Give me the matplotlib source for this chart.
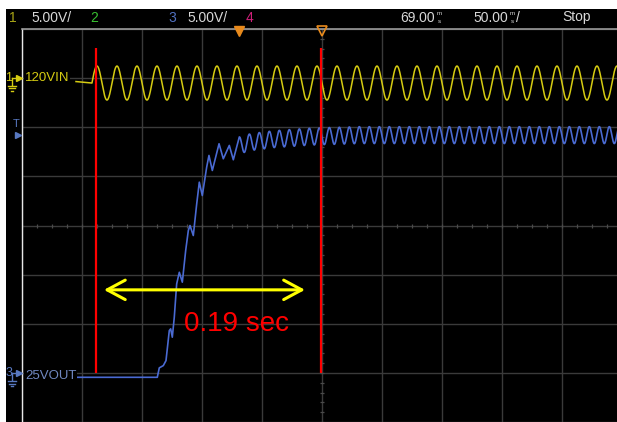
import numpy as np
import matplotlib.pyplot as plt
from matplotlib.lines import Line2D

# --- scope settings ---
T_DIV = 50.0      # ms / div
V_DIV = 5.0       # V / div
DELAY = 69.0      # ms at screen centre
CH1_OFS = 15.0    # ch1 ground position (V on screen)
CH3_OFS = -15.0   # ch3 ground position

# --- ch1 : 120 VIN line voltage ---
LINE_HZ = 60.0
VIN_T0 = -136.0       # first sample shown (ms)
VIN_START = -122.7    # AC switched on (ms, rising zero crossing)
VIN_IDLE = -0.35
VIN_MEAN = -0.5
VIN_AMPL = 1.73

# --- ch3 : 25 VOUT start-up, trace vertices (ms, V) ---
vout_t = [-136.0, -68.25, -66.6, -63.25, -61.0, -58.25, -57.1, -55.75, -54.1,
          -52.1, -49.9, -47.4, -44.6, -42.4, -41.0, -38.25, -35.4, -33.25,
          -30.75, -27.1, -25.2, -22.4, -16.8, -13.25, -8.25, -4.9]
vout_v = [-0.45, -0.45, 0.51, 0.74, 1.25, 4.31, 4.48, 3.63, 5.66,
          9.06, 10.24, 9.23, 12.45, 14.49, 15.0, 13.98, 17.21, 19.41,
          18.05, 20.94, 22.13, 20.60, 23.32, 21.79, 23.15, 21.69]
# settled output: ripple at twice the line frequency around a slowly rising level
RIPPLE_T0 = 0.1
RIPPLE_AMP = 0.86
level_t = [0.0, 10.0, 30.0, 60.0, 100.0, 320.0]
level_v = [23.15, 23.5, 23.8, 24.05, 24.2, 24.2]

# --- cursors and annotation ---
cursor_a = -119.3
cursor_b = 68.2
label_dt = "0.19 sec"

W, H = 617, 422
fig = plt.figure(figsize=(W / 100, H / 100), dpi=100, facecolor="white")


def fx(px):
    return px / W


def fy(py):
    return 1 - py / H


# black screen area
bg = fig.add_axes([fx(6), 0, 1 - fx(6), fy(9)])
bg.set_facecolor("black")
bg.set_xticks([])
bg.set_yticks([])
for s in bg.spines.values():
    s.set_visible(False)

# graticule
ax = fig.add_axes([fx(22), 0, 600 / W, 393 / H])
ax.set_facecolor("none")
t_lo, t_hi = DELAY - 5 * T_DIV, DELAY + 5 * T_DIV
ax.set_xlim(t_lo, t_hi)
ax.set_ylim(-4 * V_DIV, 4 * V_DIV)
ax.set_xticks(np.arange(t_lo, t_hi + 1, T_DIV))
ax.set_yticks(np.arange(-4 * V_DIV, 4 * V_DIV + 1, V_DIV))
ax.tick_params(length=0, labelbottom=False, labelleft=False)
ax.grid(True, color="#3a3a3a", lw=1.0, zorder=0)
ax.set_axisbelow(True)
for k in ["right", "bottom"]:
    ax.spines[k].set_visible(False)
ax.spines["left"].set_color("#e8e8e8")
ax.spines["left"].set_linewidth(1.0)
ax.spines["top"].set_color("#9a9a9a")
ax.spines["top"].set_linewidth(1.2)

# minor ticks on the centre lines
hx = np.arange(t_lo, t_hi + 0.1, T_DIV / 4)
ax.plot(hx, np.zeros_like(hx), ls="none", marker="|", ms=3.5, mew=0.9,
        color="#4a4a4a", zorder=1)
vy = np.arange(-4 * V_DIV, 4 * V_DIV + 0.1, V_DIV / 5)
ax.plot(np.full_like(vy, DELAY), vy, ls="none", marker="_", ms=3.5, mew=0.9,
        color="#4a4a4a", zorder=1)

# ch1 trace
t_ac = np.linspace(VIN_START, t_hi, 4000)
vin = VIN_MEAN + VIN_AMPL * np.sin(2 * np.pi * LINE_HZ / 1000 * (t_ac - VIN_START))
t1 = np.concatenate([[VIN_T0], t_ac])
v1 = np.concatenate([[VIN_IDLE], vin])
ax.plot(t1, v1 + CH1_OFS, color="#d6cc12", lw=1.1, zorder=3)

# ch3 trace
t_r = np.linspace(RIPPLE_T0, t_hi, 3000)
v_r = np.interp(t_r, level_t, level_v) + RIPPLE_AMP * np.cos(
    2 * np.pi * 2 * LINE_HZ / 1000 * (t_r - RIPPLE_T0))
t3 = np.concatenate([vout_t, t_r])
v3 = np.concatenate([vout_v, v_r])
ax.plot(t3, v3 + CH3_OFS, color="#4a6ad2", lw=1.2, zorder=3)

# cursors
ax.vlines([cursor_a, cursor_b], -15.0, 18.1, color="#ff0000", lw=1.6, zorder=4)

# delta-t arrow and label
ax.annotate("", xy=(cursor_a + 6.6, -6.55), xytext=(cursor_b - 13.4, -6.55),
            arrowprops=dict(arrowstyle="<->,head_length=1.3,head_width=0.7",
                            color="#ffff00", lw=2.2, shrinkA=0, shrinkB=0),
            zorder=5)
ax.text(-2.0, -10.0, label_dt, color="#ff0000", fontsize=20,
        family="Liberation Sans", ha="center", va="center", zorder=6)

# channel labels
ax.text(-178.5, CH1_OFS, "120VIN", color="#d6cc12", fontsize=9.5,
        family="Liberation Sans", ha="left", va="center", zorder=4,
        bbox=dict(facecolor="black", edgecolor="none", pad=0.5))
ax.text(-178.5, CH3_OFS - 0.35, "25VOUT", color="#7088c0", fontsize=9.5,
        family="Liberation Sans", ha="left", va="center", zorder=4,
        bbox=dict(facecolor="black", edgecolor="none", pad=0.5))

# trigger / delay markers on top edge
ax.plot([0.0], [19.75], marker="v", ms=7, color="#e88a1c", mec="#e88a1c",
        clip_on=False, zorder=6)
ax.plot([DELAY], [19.75], marker="v", ms=7, mfc="none", mec="#e88a1c",
        mew=1.2, clip_on=False, zorder=6)


# ground markers on the left margin
def ground_marker(py, col, num):
    fig.text(fx(8.5), fy(py), num, color=col, fontsize=9,
             family="Liberation Sans", ha="center", va="center")
    fig.add_artist(Line2D([fx(12), fx(12)], [fy(py), fy(py + 7)], color=col, lw=1))
    fig.add_artist(Line2D([fx(12), fx(16)], [fy(py), fy(py)], color=col, lw=1))
    fig.add_artist(Line2D([fx(18.5)], [fy(py)], marker=">", ms=5, color=col, ls="none"))
    for dy, hw in [(8, 4), (10.5, 2.6), (13, 1.2)]:
        fig.add_artist(Line2D([fx(12 - hw), fx(12 + hw)], [fy(py + dy)] * 2,
                              color=col, lw=1))


ground_marker(77.7, "#d6cc12", "1")
ground_marker(373.3, "#5878c0", "3")
fig.text(fx(16), fy(124), "T", color="#5878c0", fontsize=8,
         family="Liberation Sans", ha="center", va="center")
fig.add_artist(Line2D([fx(17.5)], [fy(135)], marker=">", ms=5,
                      color="#5878c0", ls="none"))

# header bar
hy = fy(17.5)
hdr = dict(fontsize=10, family="Liberation Sans", va="center", ha="left")
small = dict(fontsize=4.5, family="Liberation Sans", va="center", ha="center",
             color="#d8d8d8")
fig.text(fx(9), hy, "1", color="#a8a416", **hdr)
fig.text(fx(31), hy, "5.00V/", color="#d8d8d8", **hdr)
fig.text(fx(90), hy, "2", color="#38c030", **hdr)
fig.text(fx(168), hy, "3", color="#5070c0", **hdr)
fig.text(fx(187), hy, "5.00V/", color="#d8d8d8", **hdr)
fig.text(fx(246), hy, "4", color="#d0207a", **hdr)
fig.text(fx(400), hy, "69.00", color="#d8d8d8", **hdr)
fig.text(fx(439), fy(13.5), "m", **small)
fig.text(fx(439), fy(21.5), "s", **small)
fig.text(fx(473), hy, "50.00", color="#d8d8d8", **hdr)
fig.text(fx(512), fy(13.5), "m", **small)
fig.text(fx(512), fy(21.5), "s", **small)
fig.text(fx(516), hy, "/", color="#d8d8d8", **hdr)
fig.text(fx(562), hy, "Stop", color="#d8d8d8", **hdr)

fig.savefig("out.png", dpi=100, facecolor=fig.get_facecolor())
